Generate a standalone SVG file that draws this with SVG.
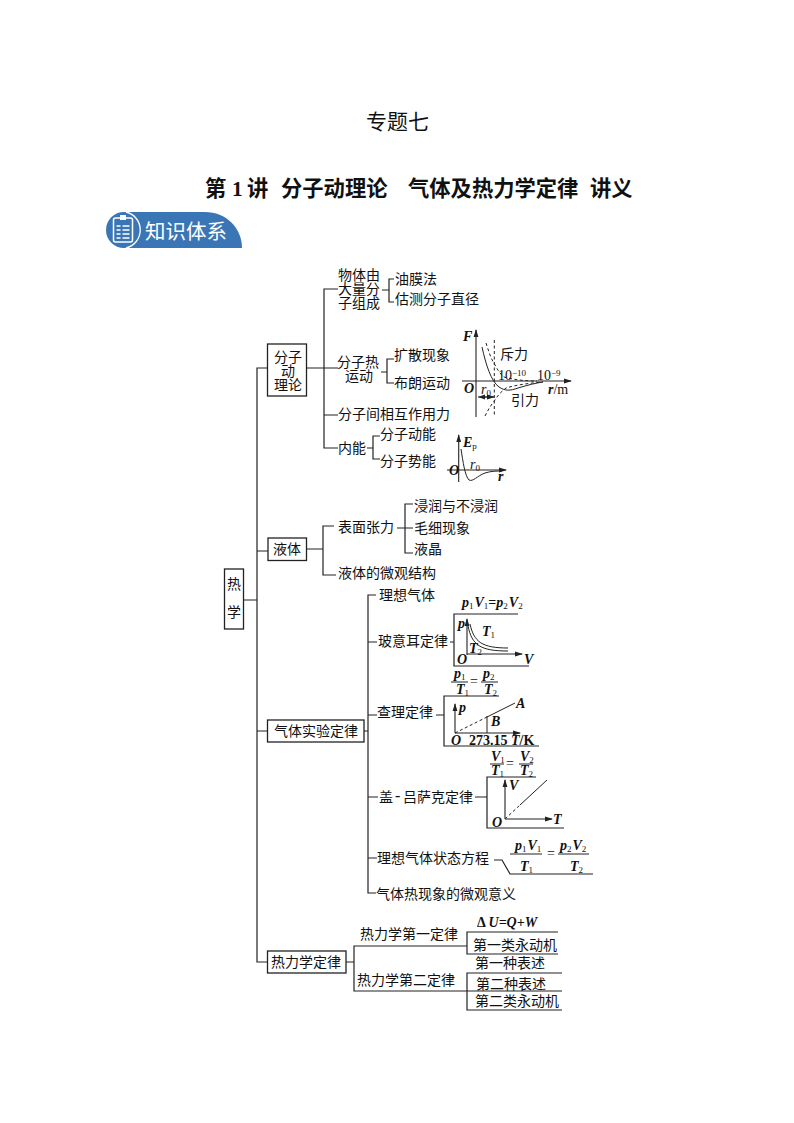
<svg xmlns="http://www.w3.org/2000/svg" width="794" height="1123" viewBox="0 0 794 1123">
<defs>
<marker id="arr" markerWidth="8" markerHeight="6" refX="7" refY="3" orient="auto" markerUnits="userSpaceOnUse"><path d="M0 0.6L8 3L0 5.4Z" fill="#222"/></marker>
<marker id="arrs" markerWidth="7" markerHeight="6" refX="0" refY="3" orient="auto" markerUnits="userSpaceOnUse"><path d="M7 0.6L0 3L7 5.4Z" fill="#222"/></marker>
</defs>
<style>
text{font-family:"Liberation Serif","Noto Sans CJK SC",serif;fill:#111;font-size:14px}
.t{font-size:21px}
.h{font-size:21.300px;font-weight:700}
.b{font-family:"Noto Sans CJK SC",sans-serif;font-size:20.500px;fill:#fff}
.i{font-style:italic;font-weight:700;font-size:14px}
.n{font-size:14px}
.s{font-size:9px;font-style:normal;font-weight:400}
.l{fill:none;stroke:#222;stroke-width:1.2}
.c{fill:none;stroke:#222;stroke-width:1}
.d{fill:none;stroke:#222;stroke-width:1;stroke-dasharray:3 2.5}
.box{fill:#fff;stroke:#222;stroke-width:1.3}
.a{fill:none;stroke:#222;stroke-width:1.1;marker-end:url(#arr)}
</style>
<rect width="794" height="1123" fill="#fff"/>
<text class="t" x="366" y="129">专题七</text>
<text class="h" y="196"><tspan x="205">第</tspan><tspan x="232">1</tspan><tspan x="247">讲</tspan><tspan x="281">分子动理论</tspan><tspan x="408">气体及热力学定律</tspan><tspan x="590">讲义</tspan></text>

<g id="badge">
<path d="M124 212H205C226 212 242 228 242 248H124A18 18 0 0 1 124 212Z" fill="#3a76b5"/>
<path d="M126 212A18.500 18.500 0 0 1 126 248" fill="none" stroke="#fff" stroke-width="1.300"/>
<rect x="113.500" y="218" width="19" height="24" rx="2" fill="none" stroke="#fff" stroke-width="1.500"/>
<rect x="120" y="215" width="6" height="5" fill="#fff"/>
<path d="M116.500 226h4M116.500 230h4M116.500 234h4M116.500 238h4M122.500 226h7M122.500 230h7M122.500 234h7M122.500 238h7" stroke="#fff" stroke-width="1.500"/>
<text class="b" x="145" y="239">知识体系</text>
</g>

<g id="connectors">
<path class="l" d="M267 368H257V962H267M244 600H257M257 551H268M257 731H267"/>
<path class="l" d="M307 368H338M338 289H324V448H338M324 415H338"/>
<path class="l" d="M382 290H389M394 279H389V302H394"/>
<path class="l" d="M381 372H387M394 359H387V383H394"/>
<path class="l" d="M367 448H373M380 436H373V459H380"/>
<path class="l" d="M307 549H323M334 526H323V575H336M397 528H413M413 504H405V553H413"/>
<path class="l" d="M364 731H368M376 595H368V893H376M368 642H377M368 715H377M368 797H378M368 858H377"/>
<path class="l" d="M450 642H454M518 614H454V666H529"/>
<path class="l" d="M436 715H444M499 696H444V746H539"/>
<path class="l" d="M475 797H487M536 777H487V828H564"/>
<path class="l" d="M494 860H502L510 874H593"/>
<path class="l" d="M346 962H354M467 946H354V991H562M558 932H467V954H558M562 973H467V1010H562"/>
</g>

<g id="node-rexue"><rect class="box" x="224.500" y="569" width="19" height="60"/><text x="227" y="589">热</text><text x="227" y="617">学</text></g>
<g id="node-fenzi"><rect class="box" x="267.500" y="344" width="39" height="52"/><text x="274" y="362">分子</text><text x="281" y="376">动</text><text x="274" y="390">理论</text></g>
<g id="node-yeti"><rect class="box" x="268" y="538" width="38.500" height="22.500"/><text x="273" y="554">液体</text></g>
<g id="node-qiti"><rect class="box" x="267.500" y="720" width="96.500" height="22"/><text x="274" y="736">气体实验定律</text></g>
<g id="node-relixue"><rect class="box" x="267.500" y="951" width="78.500" height="22"/><text x="271" y="967">热力学定律</text></g>

<g id="labels-fenzi">
<text x="338" y="280">物体由</text><text x="338" y="294">大量分</text><text x="338" y="308">子组成</text>
<text x="395" y="284">油膜法</text><text x="395" y="304">估测分子直径</text>
<text x="337" y="367">分子热</text><text x="345" y="381">运动</text>
<text x="394" y="360">扩散现象</text><text x="394" y="388">布朗运动</text>
<text x="338" y="419">分子间相互作用力</text>
<text x="338" y="453">内能</text><text x="380" y="439">分子动能</text><text x="380" y="466">分子势能</text>
</g>
<g id="labels-yeti">
<text x="338" y="532">表面张力</text><text x="414" y="511">浸润与不浸润</text><text x="414" y="533">毛细现象</text><text x="414" y="554">液晶</text><text x="338" y="578">液体的微观结构</text>
</g>
<g id="labels-qiti">
<text x="379" y="600">理想气体</text><text x="378" y="646">玻意耳定律</text><text x="377" y="717">查理定律</text>
<text y="802"><tspan x="379">盖</tspan><tspan x="395" dy="-1" font-size="16">-</tspan><tspan x="403" dy="1">吕萨克定律</tspan></text>
<text x="377" y="863">理想气体状态方程</text><text x="376" y="899">气体热现象的微观意义</text>
</g>
<g id="labels-re">
<text x="360" y="939">热力学第一定律</text><text x="357" y="985">热力学第二定律</text>
<text class="i" x="477" y="927"><tspan font-style="normal">Δ </tspan>U=Q+W</text>
<text x="473" y="950">第一类永动机</text><text x="475" y="968">第一种表述</text><text x="476" y="989">第二种表述</text><text x="475" y="1006">第二类永动机</text>
</g>

<g id="graph-F">
<path class="a" d="M476 417V330"/><path class="a" d="M462 381H571"/>
<path class="d" d="M494.300 340V417"/>
<path class="c" d="M482 347C486 365 491 381 499 387C505 391 510 391 518 388C528 385 536 383 543 382"/>
<path class="d" d="M486 343C489 352 491 359 494 363C497 369 500 374 504 377C515 380 526 381 537 381"/>
<path class="d" d="M485 416C488 410 491 405 495 400C498 395 502 391 506 388C516 385 530 383 543 382"/>
<path class="c" d="M478 397H488M484 397H494" marker-start="url(#arrs)" marker-end="url(#arr)"/>
<text class="i" x="463" y="341">F</text><text x="500" y="359">斥力</text><text x="511" y="405">引力</text>
<text class="n" x="498" y="380">10<tspan class="s" dy="-4">−10</tspan></text><text class="n" x="537" y="380">10<tspan class="s" dy="-4">−9</tspan></text>
<text class="i" x="464" y="393">O</text><text class="n" x="481" y="394"><tspan font-style="italic">r</tspan><tspan class="s" dy="2">0</tspan></text>
<text class="n" x="548" y="394"><tspan font-style="italic" font-weight="700">r</tspan>/m</text>
</g>
<g id="graph-Ep">
<path class="a" d="M458.700 482V435"/><path class="a" d="M447 470H506"/>
<path class="c" d="M461 449C463 462 465 476 469 480C473 482 477 476 485 473C491 471 497 471 502 471"/>
<text class="i" x="463" y="447">E<tspan class="s" dy="2">p</tspan></text><text class="i" x="449" y="475">O</text>
<text class="n" x="470" y="469"><tspan font-style="italic">r</tspan><tspan class="s" dy="2">0</tspan></text><text class="i" x="498" y="481">r</text>
</g>
<g id="graph-boyle">
<path class="a" d="M467 655V619"/><path class="a" d="M467 654H522"/>
<path class="c" d="M470 624C474 642 482 648 508 648"/><path class="c" d="M468 626C472 645 480 651 508 651"/>
<text class="i" x="462" y="607">p<tspan class="s" dy="2">1</tspan><tspan dy="-2" dx="1">V</tspan><tspan class="s" dy="2">1</tspan><tspan dy="-2" font-style="normal">=</tspan>p<tspan class="s" dy="2">2</tspan><tspan dy="-2" dx="1">V</tspan><tspan class="s" dy="2">2</tspan></text>
<text class="i" x="458" y="628">p</text><text class="i" x="482" y="636">T<tspan class="s" dy="2">1</tspan></text><text class="i" x="469" y="653">T<tspan class="s" dy="2">2</tspan></text>
<text class="i" x="457" y="664">O</text><text class="i" x="524" y="664">V</text>
</g>
<g id="graph-charles">
<path class="l" d="M451 682H468M481 682H498"/>
<text class="i" x="454" y="678">p<tspan class="s" dy="2">1</tspan></text><text class="i" x="456" y="694">T<tspan class="s" dy="2">1</tspan></text>
<text class="n" x="470" y="686">=</text>
<text class="i" x="483" y="678">p<tspan class="s" dy="2">2</tspan></text><text class="i" x="484" y="694">T<tspan class="s" dy="2">2</tspan></text>
<path class="a" d="M455 733V704"/><path class="a" d="M455 733H520"/>
<path class="d" d="M455 733L487 717"/><path class="c" d="M487 717L515 703M487 716V733"/>
<text class="i" x="459" y="712">p</text><text class="i" x="516" y="708">A</text><text class="i" x="491" y="726">B</text><text class="i" x="451" y="745">O</text>
<text x="469" y="745" font-weight="700">273.15 <tspan font-style="italic">T</tspan>/K</text>
</g>
<g id="graph-gay">
<path class="l" d="M490 764H504M519 764H533"/>
<text class="i" x="491" y="761">V<tspan class="s" dy="2">1</tspan></text><text class="i" x="491" y="775">T<tspan class="s" dy="2">1</tspan></text>
<text class="n" x="506" y="768">=</text>
<text class="i" x="520" y="761">V<tspan class="s" dy="2">2</tspan></text><text class="i" x="520" y="775">T<tspan class="s" dy="2">2</tspan></text>
<path class="a" d="M505 819V780"/><path class="a" d="M505 819H552"/>
<path class="d" d="M505 819L520 805"/><path class="c" d="M520 805L547 780"/>
<text class="i" x="509" y="790">V</text><text class="i" x="553" y="824">T</text><text class="i" x="492" y="827">O</text>
</g>
<g id="eq-state">
<path class="l" d="M510 854H542M558 854H589"/>
<text class="i" x="515" y="850">p<tspan class="s" dy="2">1</tspan><tspan dy="-2" dx="1">V</tspan><tspan class="s" dy="2">1</tspan></text><text class="i" x="520" y="871">T<tspan class="s" dy="2">1</tspan></text>
<text class="n" x="547" y="858">=</text>
<text class="i" x="560" y="850">p<tspan class="s" dy="2">2</tspan><tspan dy="-2" dx="1">V</tspan><tspan class="s" dy="2">2</tspan></text><text class="i" x="570" y="871">T<tspan class="s" dy="2">2</tspan></text>
</g>
</svg>
